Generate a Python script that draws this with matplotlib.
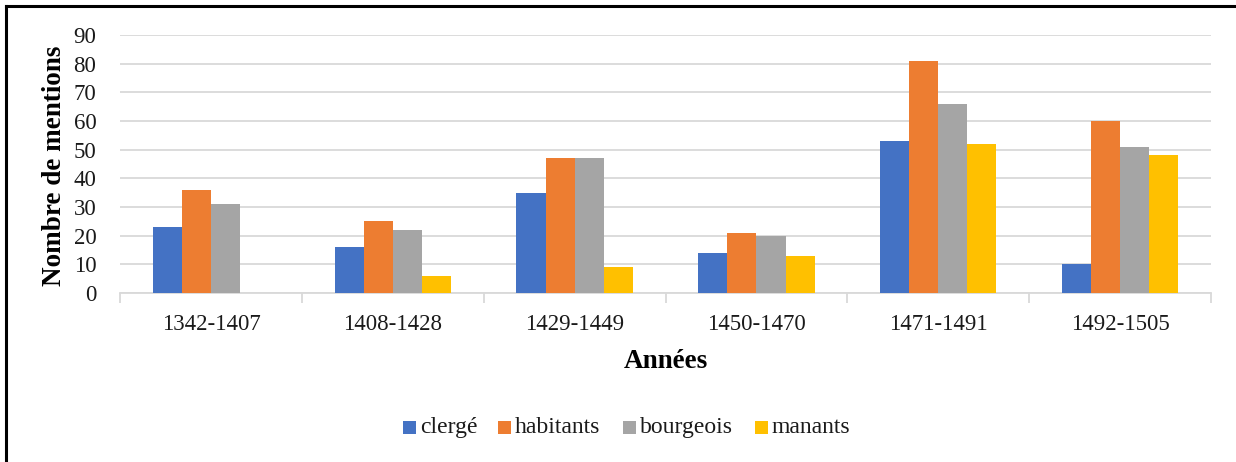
import matplotlib.pyplot as plt
from matplotlib.lines import Line2D
from matplotlib.patches import Rectangle
import numpy as np

periodes = ['1342-1407', '1408-1428', '1429-1449', '1450-1470', '1471-1491', '1492-1505']
series = ['clergé', 'habitants', 'bourgeois', 'manants']
clerge = [23, 16, 35, 14, 53, 10]
habitants = [36, 25, 47, 21, 81, 60]
bourgeois = [31, 22, 47, 20, 66, 51]
manants = [0, 6, 9, 13, 52, 48]
couleurs = ['#4472C4', '#ED7D31', '#A5A5A5', '#FFC000']

polices = ['Liberation Serif', 'DejaVu Serif']
plt.rcParams['font.family'] = polices

fig = plt.figure(figsize=(12.36, 4.62), dpi=100)
ax = fig.add_axes([0.0971, 0.3658, 0.8827, 0.5584])

x = np.arange(len(periodes))
w = 0.16
valeurs = [clerge, habitants, bourgeois, manants]
for i, (nom, vals) in enumerate(zip(series, valeurs)):
    ax.bar(x + (i - 1.5) * w, vals, w, color=couleurs[i], label=nom,
           linewidth=0, zorder=3)

ax.set_xlim(-0.5, len(periodes) - 0.5)
ax.set_ylim(0, 90)
ax.set_yticks(range(0, 91, 10))
ax.yaxis.grid(True, color='#d9d9d9', linewidth=1.3, zorder=0)
ax.set_axisbelow(True)
for s in ['top', 'right', 'left']:
    ax.spines[s].set_visible(False)
ax.spines['bottom'].set_color('#d9d9d9')
ax.spines['bottom'].set_linewidth(1.3)
ax.spines['bottom'].set_zorder(2)

ax.set_xticks(x)
ax.set_xticklabels(periodes, fontsize=16.5, color='#1a1a1a')
ax.set_xticks(np.arange(-0.5, len(periodes)), minor=True)
ax.tick_params(axis='x', which='major', length=0, pad=15)
ax.tick_params(axis='x', which='minor', length=7, width=1.3, color='#d9d9d9')
ax.tick_params(axis='y', length=0, pad=17, labelsize=16.5, labelcolor='#1a1a1a')

ax.set_xlabel('Années', fontsize=19.5, fontweight='bold', labelpad=10)
fig.text(0.044, 0.6407, 'Nombre de mentions', rotation=90, fontsize=19.5,
         fontweight='bold', ha='center', va='center')

# légende dessinée à la main (carré + texte), comme dans Excel
leg_x = [403, 498, 623, 755]
W, H = 1236, 462
for nom, coul, px in zip(series, couleurs, leg_x):
    fig.add_artist(Rectangle((px / W, 1 - 434 / H), 13 / W, 13 / H,
                             facecolor=coul, edgecolor='none',
                             transform=fig.transFigure))
    fig.text((px + 17) / W, 1 - 433 / H, nom, fontsize=17, color='#1a1a1a',
             family='Liberation Serif', ha='left', va='baseline')

# cadre gauche et haut
fig.add_artist(Line2D([0.0045, 0.0045], [0, 0.987], color='black', lw=2.2,
                      transform=fig.transFigure))
fig.add_artist(Line2D([0.0045, 1.0], [0.987, 0.987], color='black', lw=2.2,
                      transform=fig.transFigure))

fig.savefig('out.png', dpi=100)
